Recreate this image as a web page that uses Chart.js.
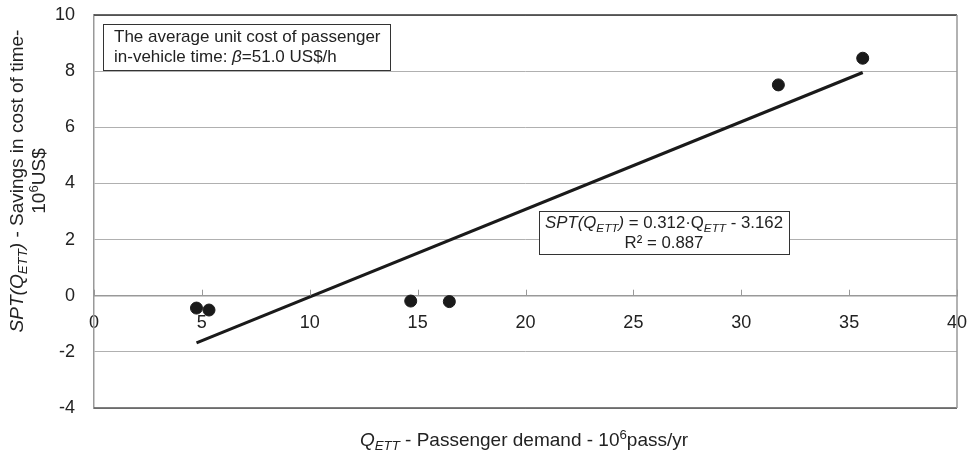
<!DOCTYPE html>
<html>
<head>
<meta charset="utf-8">
<script src="https://cdn.jsdelivr.net/npm/chart.js@4.4.1/dist/chart.umd.min.js"></script>
<style>
  html, body { margin: 0; padding: 0; background: #fff; }
  #wrap { width: 972px; height: 459px; }
</style>
</head>
<body>
<div id="wrap"><canvas id="c" width="972" height="459"></canvas></div>
<script>
// ---- data ----
const demandQ = [4.75, 5.33, 14.68, 16.47, 31.72, 35.63];
const savingsSPT = [-0.44, -0.51, -0.19, -0.21, 7.51, 8.46];
const trendQ = [4.75, 35.63];
const trendSPT = [-1.68, 7.95];
const xTickValues = [0, 5, 10, 15, 20, 25, 30, 35, 40];
const yTickValues = [-4, -2, 0, 2, 4, 6, 8, 10];

const FONT = '"Liberation Sans", Arial, sans-serif';

function runsWidth(ctx, runs, size) {
  let w = 0;
  for (const r of runs) {
    const s = (r.sub || r.sup) ? size * 0.7 : size;
    ctx.font = (r.italic ? 'italic ' : '') + s + 'px ' + FONT;
    w += ctx.measureText(r.t).width;
  }
  return w;
}
function drawRuns(ctx, runs, x, y, size, align) {
  let w = runsWidth(ctx, runs, size);
  let cx = align === 'center' ? x - w / 2 : x;
  ctx.textBaseline = 'alphabetic';
  ctx.textAlign = 'left';
  for (const r of runs) {
    const s = (r.sub || r.sup) ? size * 0.7 : size;
    ctx.font = (r.italic ? 'italic ' : '') + s + 'px ' + FONT;
    let dy = r.sub ? size * 0.22 : (r.sup ? -size * 0.38 : 0);
    ctx.fillText(r.t, cx, y + dy);
    cx += ctx.measureText(r.t).width;
  }
}

const decor = {
  id: 'decor',
  afterDraw(chart) {
    const ctx = chart.ctx;
    const xs = chart.scales.x, ys = chart.scales.y;
    const a = chart.chartArea;
    ctx.save();
    // frame
    ctx.lineWidth = 1.5;
    ctx.strokeStyle = '#333';
    ctx.beginPath();
    ctx.moveTo(a.left, ys.getPixelForValue(10)); ctx.lineTo(a.right, ys.getPixelForValue(10));
    ctx.stroke();
    ctx.strokeStyle = '#555';
    ctx.beginPath();
    ctx.moveTo(a.left, ys.getPixelForValue(-4)); ctx.lineTo(a.right, ys.getPixelForValue(-4));
    ctx.stroke();
    ctx.strokeStyle = '#999';
    ctx.beginPath();
    ctx.moveTo(a.right, a.top); ctx.lineTo(a.right, a.bottom);
    ctx.stroke();
    // x tick marks (upward)
    const y0 = ys.getPixelForValue(0);
    ctx.strokeStyle = '#999';
    ctx.lineWidth = 1;
    for (const v of xTickValues) {
      const px = Math.round(xs.getPixelForValue(v)) + 0.5;
      ctx.beginPath(); ctx.moveTo(px, y0); ctx.lineTo(px, y0 - 6); ctx.stroke();
    }
    // annotation box 1
    ctx.fillStyle = '#fff';
    ctx.fillRect(103, 24, 287, 47);
    ctx.strokeStyle = '#333';
    ctx.lineWidth = 1;
    ctx.strokeRect(103.5, 24.5, 287, 46);
    ctx.fillStyle = '#222';
    drawRuns(ctx, [{t: 'The average unit cost of passenger'}], 114, 42, 17, 'left');
    drawRuns(ctx, [{t: 'in-vehicle time: '}, {t: 'β', italic: true}, {t: '=51.0 US$/h'}], 114, 62, 17, 'left');
    // annotation box 2
    ctx.fillStyle = '#fff';
    ctx.fillRect(539, 211, 250, 43);
    ctx.strokeStyle = '#333';
    ctx.strokeRect(539.5, 211.5, 250, 43);
    ctx.fillStyle = '#222';
    drawRuns(ctx, [{t: 'SPT(Q', italic: true}, {t: 'ETT', italic: true, sub: true}, {t: ')', italic: true},
                   {t: ' = 0.312·Q'}, {t: 'ETT', italic: true, sub: true}, {t: ' - 3.162'}], 664, 228, 16.8, 'center');
    drawRuns(ctx, [{t: 'R² = 0.887'}], 664, 248, 16.8, 'center');
    // x title
    drawRuns(ctx, [{t: 'Q', italic: true}, {t: 'ETT', italic: true, sub: true},
                   {t: ' - Passenger demand - 10'}, {t: '6', sup: true}, {t: 'pass/yr'}], 524, 446, 19, 'center');
    // y title
    ctx.save();
    ctx.translate(23, 181);
    ctx.rotate(-Math.PI / 2);
    drawRuns(ctx, [{t: 'SPT(Q', italic: true}, {t: 'ETT', italic: true, sub: true}, {t: ')', italic: true},
                   {t: ' - Savings in cost of time-'}], 0, 0, 19, 'center');
    drawRuns(ctx, [{t: '10'}, {t: '6', sup: true}, {t: 'US$'}], 0, 22, 19, 'center');
    ctx.restore();
    ctx.restore();
  }
};

function zeroPad(s) { s.paddingTop = 0; s.paddingBottom = 0; s.paddingLeft = 0; s.paddingRight = 0; }

new Chart(document.getElementById('c'), {
  type: 'scatter',
  data: {
    datasets: [
      {
        label: 'data',
        data: demandQ.map((q, i) => ({x: q, y: savingsSPT[i]})),
        backgroundColor: '#1a1a1a',
        borderColor: '#1a1a1a',
        pointRadius: 6,
        pointHoverRadius: 6
      },
      {
        label: 'trend',
        data: trendQ.map((q, i) => ({x: q, y: trendSPT[i]})),
        showLine: true,
        borderColor: '#1a1a1a',
        borderWidth: 3.2,
        pointRadius: 0,
        fill: false
      }
    ]
  },
  options: {
    responsive: false,
    animation: false,
    devicePixelRatio: 1,
    layout: { padding: { left: 0, right: 15, top: 15, bottom: 51 } },
    plugins: { legend: { display: false }, tooltip: { enabled: false } },
    scales: {
      x: {
        type: 'linear',
        min: 0, max: 40,
        position: { y: 0 },
        afterBuildTicks: s => { s.ticks = xTickValues.map(v => ({value: v})); },
        afterFit: s => { s.height = 0; zeroPad(s); },
        ticks: { color: '#222', font: { family: FONT, size: 18 }, padding: 17, maxRotation: 0 },
        grid: { display: true, drawOnChartArea: false, drawTicks: false },
        border: { display: true, color: '#999', width: 1.5 }
      },
      y: {
        type: 'linear',
        min: -4, max: 10,
        afterBuildTicks: s => { s.ticks = yTickValues.map(v => ({value: v})); },
        afterFit: s => { s.width = 94; zeroPad(s); },
        ticks: { color: '#222', font: { family: FONT, size: 18 }, padding: 19 },
        grid: { color: '#b0b0b0', lineWidth: 1, drawTicks: false },
        border: { display: true, color: '#999', width: 1.5 }
      }
    }
  },
  plugins: [decor]
});
</script>
</body>
</html>
